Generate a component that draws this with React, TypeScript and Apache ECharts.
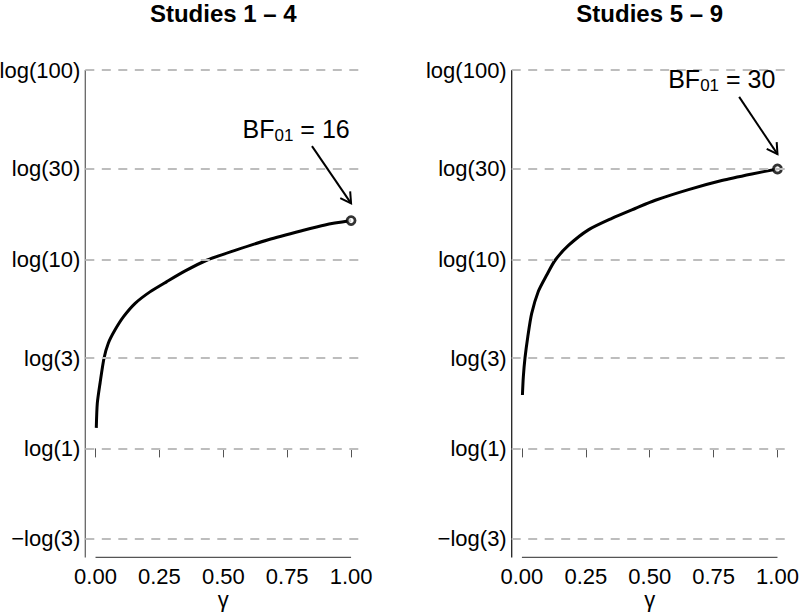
import React, { useEffect, useRef } from 'react';
import * as echarts from 'echarts';

const panelTitles = ['Studies 1 – 4', 'Studies 5 – 9'];
const bayesFactors = [16, 30];

const gammaLeft = [0.003, 0.007, 0.018, 0.033, 0.050, 0.076, 0.109, 0.155, 0.213, 0.279, 0.351, 0.435, 0.546, 0.676, 0.807, 0.898, 1.0];
const logBFLeft = [0.25, 0.55, 0.80, 1.095, 1.28, 1.44, 1.60, 1.765, 1.905, 2.03, 2.16, 2.29, 2.41, 2.54, 2.65, 2.72, 2.773];

const gammaRight = [0.002, 0.0055, 0.012, 0.023, 0.038, 0.064, 0.097, 0.130, 0.182, 0.260, 0.352, 0.443, 0.522, 0.652, 0.782, 0.900, 1.0];
const logBFRight = [0.65, 0.87, 1.10, 1.36, 1.64, 1.91, 2.11, 2.29, 2.47, 2.66, 2.80, 2.92, 3.02, 3.15, 3.26, 3.34, 3.401];

const yTickValues = [-Math.log(3), 0, Math.log(3), Math.log(10), Math.log(30), Math.log(100)];
const yTickLabels = ['−log(3)', 'log(1)', 'log(3)', 'log(10)', 'log(30)', 'log(100)'];
const xTickValues = [0, 0.25, 0.5, 0.75, 1];
const xTickLabels = ['0.00', '0.25', '0.50', '0.75', '1.00'];
const xAxisName = 'γ';

// annotation anchors (data coordinates)
const labelAnchors = [[0.785, 3.886], [0.782, 4.491]];
const arrowSegments = [[0.847, 3.679, 1.0, 2.982], [0.850, 4.279, 1.0, 3.582]];

const FONT = 'Liberation Sans, Arial, Helvetica, sans-serif';
const X_MIN = -0.04, X_MAX = 1.04;
const Y_SPAN = Math.log(100) + Math.log(3);
const Y_MIN = -Math.log(3) - 0.04 * Y_SPAN;
const Y_MAX = Math.log(100) + 0.04 * Y_SPAN;

const gridBoxes = [
  { left: 85.3, top: 51.3, width: 276, height: 506.1, outerBoundsMode: 'none', containLabel: false },
  { left: 511.7, top: 51.3, width: 276, height: 506.1, outerBoundsMode: 'none', containLabel: false },
];
const yAxisColors = ['#666', '#222'];

function yLabel(v: number) {
  let best = 0;
  for (let i = 1; i < yTickValues.length; i++) {
    if (Math.abs(yTickValues[i] - v) < Math.abs(yTickValues[best] - v)) best = i;
  }
  return yTickLabels[best];
}

export default function App() {
  const ref = useRef<HTMLDivElement>(null);
  useEffect(() => {
    if (!ref.current) return;
    const chart = echarts.init(ref.current, null, { renderer: 'svg' });
    const curves = [
      gammaLeft.map((g, i) => [g, logBFLeft[i]]),
      gammaRight.map((g, i) => [g, logBFRight[i]]),
    ];
    const series: any[] = [];
    const xAxis: any[] = [];
    const yAxis: any[] = [];
    for (let p = 0; p < 2; p++) {
      xAxis.push({
        type: 'value', gridIndex: p, min: X_MIN, max: X_MAX,
        axisLine: { show: false },
        splitLine: { show: false },
        axisTick: { show: true, length: 9, customValues: xTickValues, lineStyle: { color: '#555', width: 1 } },
        axisLabel: {
          show: true, customValues: xTickValues, margin: 8,
          formatter: (v: number) => xTickLabels[xTickValues.indexOf(Math.round(v * 100) / 100)] ?? v.toFixed(2),
          fontSize: 22, fontFamily: FONT, color: '#000',
        },
        name: xAxisName, nameLocation: 'middle', nameGap: 31, nameMoveOverlap: false,
        nameTextStyle: { fontSize: 22, fontFamily: FONT, color: '#000' },
      });
      yAxis.push({
        type: 'value', gridIndex: p, min: Y_MIN, max: Y_MAX,
        axisLine: { show: false },
        axisTick: { show: false },
        splitLine: { show: false },
        axisLabel: {
          show: true, customValues: yTickValues, margin: 5,
          formatter: (v: number) => yLabel(v),
          fontSize: 22, fontFamily: FONT, color: '#000',
        },
      });
      // gridlines + y axis line
      series.push({
        type: 'line', xAxisIndex: p, yAxisIndex: p, z: 1, clip: false,
        data: [[X_MIN, Math.log(100)], [X_MIN, Y_MIN]],
        symbol: 'none', silent: true,
        lineStyle: { color: yAxisColors[p], width: 1.3 },
        markLine: {
          silent: true, symbol: ['none', 'none'], label: { show: false },
          lineStyle: { color: '#bdbdbd', width: 2, type: [9, 7.5] },
          data: yTickValues.map((v) => ({ yAxis: v })),
        },
      });
      // x axis line
      series.push({
        type: 'line', xAxisIndex: p, yAxisIndex: p, z: 1, clip: false,
        data: [[xTickValues[0], Y_MIN], [xTickValues[xTickValues.length - 1], Y_MIN]],
        symbol: 'none', silent: true,
        lineStyle: { color: '#555', width: 1.3 },
      });
      // curve
      series.push({
        type: 'line', xAxisIndex: p, yAxisIndex: p, z: 3,
        data: curves[p], symbol: 'none', smooth: 0.25,
        lineStyle: { color: '#000', width: 3 },
      });
      // end point
      series.push({
        type: 'scatter', xAxisIndex: p, yAxisIndex: p, z: 4,
        data: [[1, Math.log(bayesFactors[p])]],
        symbol: 'circle', symbolSize: 8,
        itemStyle: { color: '#fff', borderColor: '#000', borderWidth: 2.8 },
      });
      // arrow
      series.push({
        type: 'custom', xAxisIndex: p, yAxisIndex: p, z: 5, clip: false, silent: true,
        data: [arrowSegments[p]],
        encode: { x: [0, 2], y: [1, 3] },
        renderItem: (_params: any, api: any) => {
          const p0 = api.coord([api.value(0), api.value(1)]);
          const p1 = api.coord([api.value(2), api.value(3)]);
          const ang = Math.atan2(p1[1] - p0[1], p1[0] - p0[0]);
          const L = 12, a = Math.PI / 6;
          const w1 = [p1[0] - L * Math.cos(ang - a), p1[1] - L * Math.sin(ang - a)];
          const w2 = [p1[0] - L * Math.cos(ang + a), p1[1] - L * Math.sin(ang + a)];
          return {
            type: 'group',
            children: [
              { type: 'line', shape: { x1: p0[0], y1: p0[1], x2: p1[0], y2: p1[1] }, style: { stroke: '#000', lineWidth: 2 } },
              { type: 'polyline', shape: { points: [w1, p1, w2] }, style: { stroke: '#000', lineWidth: 2, fill: null } },
            ],
          };
        },
      });
    }
    chart.setOption({
      animation: false,
      backgroundColor: '#fff',
      grid: gridBoxes,
      xAxis, yAxis, series,
    });
    const graphic: any[] = [];
    for (let p = 0; p < 2; p++) {
      graphic.push({
        type: 'text', x: gridBoxes[p].left + gridBoxes[p].width / 2, y: 13,
        style: { text: panelTitles[p], align: 'center', verticalAlign: 'middle', font: `bold 24px ${FONT}`, fill: '#000' },
      });
      const pt = chart.convertToPixel({ gridIndex: p }, labelAnchors[p]) as number[];
      graphic.push({
        type: 'text', x: pt[0], y: pt[1], z: 10,
        style: {
          text: `{a|BF}{b|01}{a| = ${bayesFactors[p]}}`,
          align: 'center', verticalAlign: 'middle',
          rich: {
            a: { fontSize: 25, fontFamily: FONT, fill: '#000', lineHeight: 30 },
            b: { fontSize: 17, fontFamily: FONT, fill: '#000', lineHeight: 15, verticalAlign: 'bottom' },
          },
        },
      });
    }
    chart.setOption({ graphic });
    return () => chart.dispose();
  }, []);
  return <div ref={ref} style={{ position: 'absolute', left: 0, top: 0, width: 799, height: 614 }} />;
}
